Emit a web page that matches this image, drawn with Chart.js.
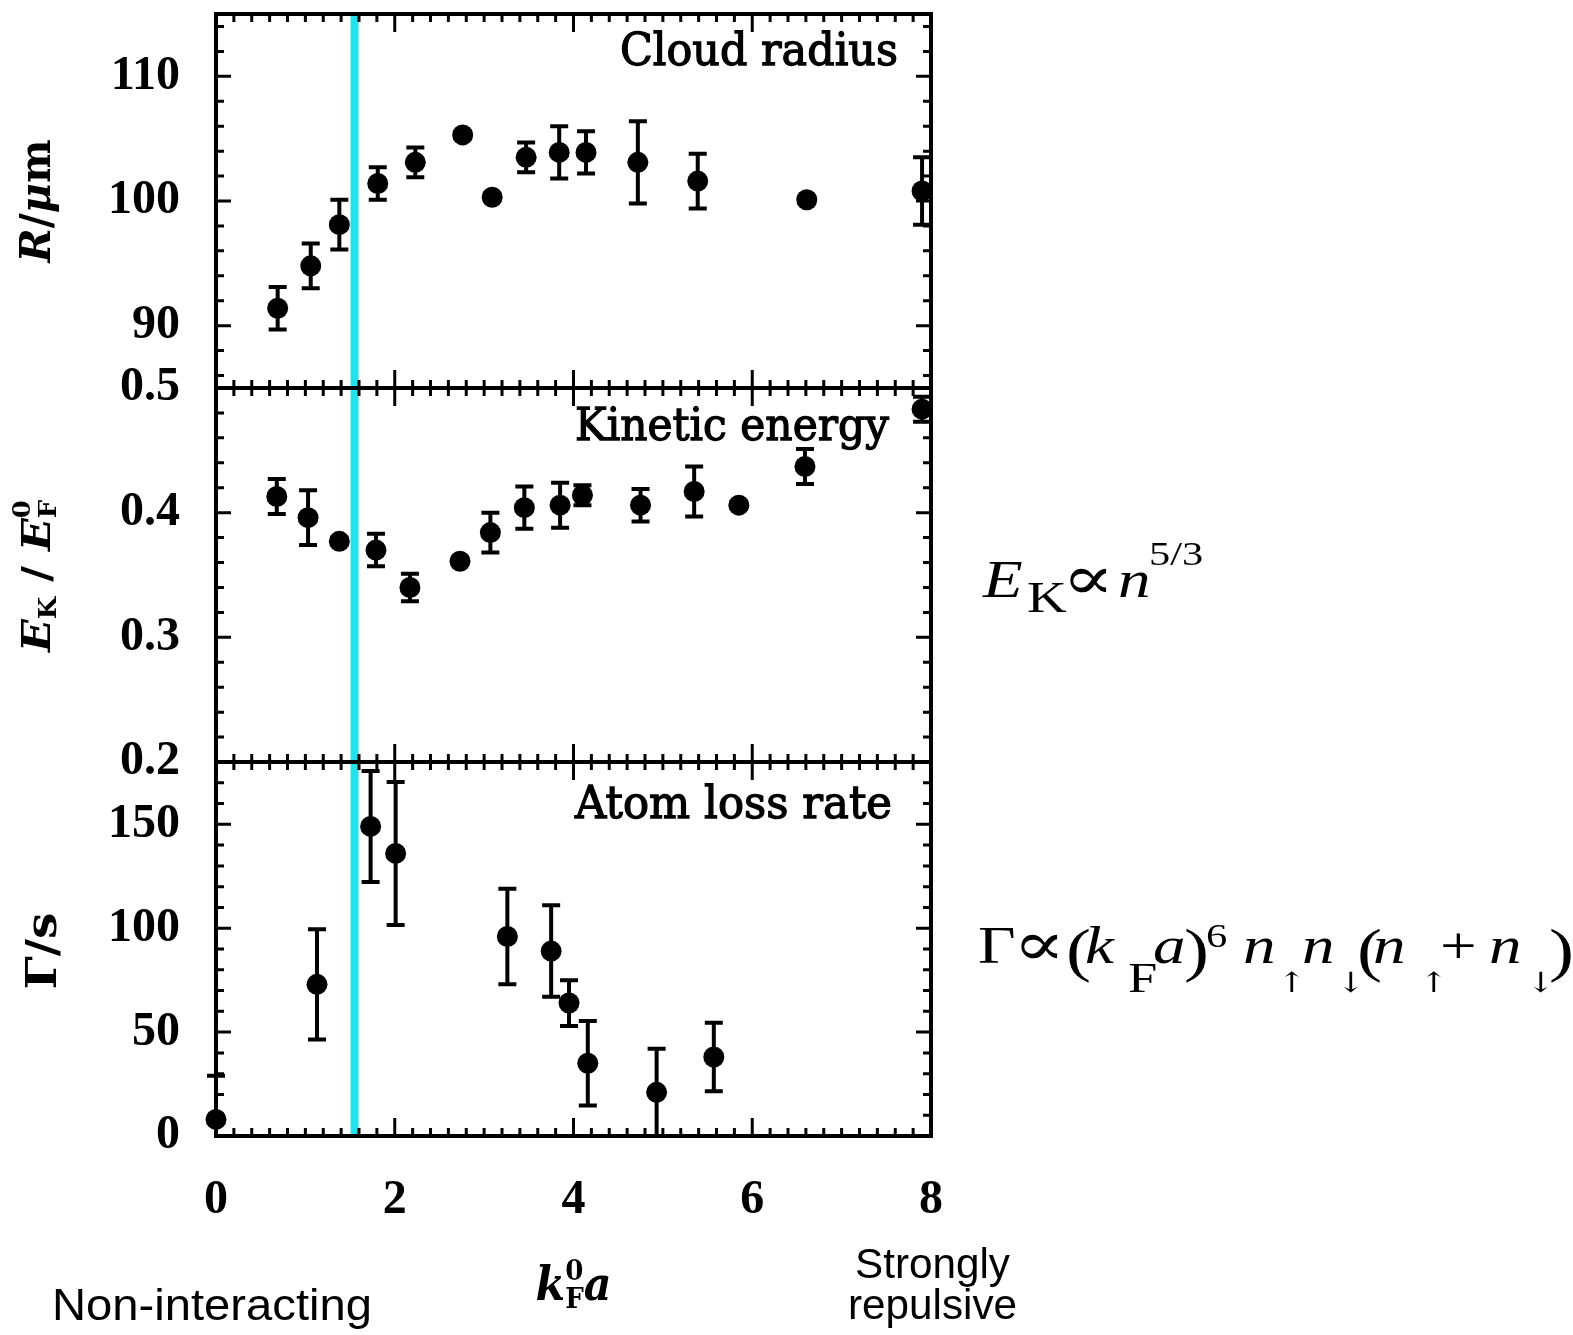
<!DOCTYPE html>
<html>
<head>
<meta charset="utf-8">
<title>Repulsive Fermi gas</title>
<script src="https://cdn.jsdelivr.net/npm/chart.js@4.4.1/dist/chart.umd.min.js"></script>
<style>
  html, body { margin: 0; padding: 0; background: #fff; }
  canvas { display: block; }
</style>
</head>
<body>
<canvas id="myChart" width="1573" height="1335"></canvas>
<script>
// values (x = k_F^0 a)
const radiusK = [0.69, 1.06, 1.38, 1.81, 2.23, 2.76, 3.09, 3.47, 3.84, 4.14, 4.72, 5.39, 6.61, 7.90];
const radiusR = [91.4, 94.8, 98.1, 101.4, 103.1, 105.3, 100.3, 103.5, 103.9, 103.9, 103.1, 101.6, 100.1, 100.8];
const radiusErr = [1.7, 1.8, 2.0, 1.3, 1.2, 0.3, 0.3, 1.2, 2.1, 1.7, 3.3, 2.2, 0.3, 2.7];

const energyK = [0.68, 1.03, 1.38, 1.79, 2.17, 2.73, 3.07, 3.45, 3.85, 4.10, 4.75, 5.35, 5.85, 6.59, 7.90];
const energyE = [0.413, 0.396, 0.377, 0.370, 0.340, 0.361, 0.384, 0.404, 0.406, 0.414, 0.406, 0.417, 0.406, 0.437, 0.483];
const energyErr = [0.014, 0.022, 0.003, 0.013, 0.011, 0.003, 0.016, 0.017, 0.018, 0.008, 0.013, 0.020, 0.003, 0.014, 0.010];

const lossK = [0.0, 1.13, 1.73, 2.01, 3.26, 3.75, 3.95, 4.16, 4.93, 5.57];
const lossG = [8, 73, 149, 136, 96, 89, 64, 35, 21, 38];
const lossErr = [21, 26.5, 26.7, 34.4, 23, 22, 11, 20.3, 21, 16.5];

const xTicks = [0, 2, 4, 6, 8];
const radiusTicks = [90, 100, 110];
const energyTicks = [0.2, 0.3, 0.4, 0.5];
const lossTicks = [0, 50, 100, 150];
const crossoverK = 1.55;

const SERIF = '"DejaVu Serif", serif';
const TIMES = '"Liberation Serif", "DejaVu Serif", serif';
const SANS = '"Liberation Sans", Arial, sans-serif';
const ARROW = '"DejaVu Serif", serif';

const panels = [
  { id: 'y1', title: 'Cloud radius', min: 85, max: 115, major: 10, minor: 2, right: 898, base: 65, width: 278 },
  { id: 'y2', title: 'Kinetic energy', min: 0.2, max: 0.5, major: 0.1, minor: 0.02, right: 889, base: 440, width: 314 },
  { id: 'y3', title: 'Atom loss rate', min: 0, max: 180, major: 50, minor: 10, right: 892, base: 818, width: 317 },
];

const toPoints = (xs, ys) => xs.map((x, i) => ({ x: x, y: ys[i] }));

function runsWidth(ctx, runs) {
  let w = 0;
  runs.forEach(r => {
    ctx.font = r[1];
    if (r[3] !== false) w += ctx.measureText(r[0]).width;
  });
  return w;
}

function drawRuns(ctx, runs, x, y) {
  let cx = x;
  runs.forEach(r => {
    ctx.font = r[1];
    ctx.fillText(r[0], cx, y + (r[2] || 0));
    if (r[3] !== false) cx += ctx.measureText(r[0]).width;
  });
}

function fitText(ctx, text, font, left, base, width, heavy) {
  ctx.font = font;
  const w = ctx.measureText(text).width;
  ctx.save();
  ctx.translate(left, base);
  ctx.scale(width / w, 1);
  ctx.fillText(text, 0, 0);
  if (heavy) {
    ctx.lineWidth = heavy;
    ctx.strokeStyle = '#000';
    ctx.strokeText(text, 0, 0);
  }
  ctx.restore();
}

function rotatedTitle(ctx, runs, baseX, centerY, length) {
  const w = runsWidth(ctx, runs);
  ctx.save();
  ctx.translate(baseX, centerY);
  ctx.rotate(-Math.PI / 2);
  ctx.scale(length / w, 1);
  drawRuns(ctx, runs, -w / 2, 0);
  ctx.restore();
}

const crossover = {
  id: 'crossover',
  beforeDatasetsDraw(chart) {
    const { ctx, chartArea: a, scales } = chart;
    const px = scales.x.getPixelForValue(crossoverK);
    ctx.save();
    ctx.fillStyle = '#22e2ec';
    ctx.fillRect(px - 4, a.top, 8, a.bottom - a.top);
    ctx.restore();
  }
};

const errorBars = {
  id: 'errorBars',
  afterDatasetsDraw(chart) {
    const { ctx, chartArea: a, scales } = chart;
    const xs = scales.x;
    chart.data.datasets.forEach(ds => {
      const ys = scales[ds.yAxisID];
      ctx.save();
      ctx.beginPath();
      ctx.rect(a.left - 12, ys.top, a.right - a.left + 24, ys.bottom - ys.top);
      ctx.clip();
      ctx.strokeStyle = '#000';
      ctx.lineWidth = 4;
      ds.data.forEach((p, i) => {
        const e = ds.errors[i];
        const px = xs.getPixelForValue(p.x);
        const top = ys.getPixelForValue(p.y + e);
        const bot = ys.getPixelForValue(p.y - e);
        ctx.beginPath();
        ctx.moveTo(px, top); ctx.lineTo(px, bot);
        ctx.moveTo(px - 9, top); ctx.lineTo(px + 9, top);
        ctx.moveTo(px - 9, bot); ctx.lineTo(px + 9, bot);
        ctx.stroke();
      });
      ctx.restore();
    });
  }
};

const frame = {
  id: 'frame',
  afterDatasetsDraw(chart) {
    const { ctx, chartArea: a, scales } = chart;
    const xs = scales.x;
    ctx.save();
    ctx.strokeStyle = '#000';
    panels.forEach(pn => {
      const ys = scales[pn.id];
      ctx.lineWidth = 3;
      ctx.beginPath();
      // x ticks, inward on top and bottom of every panel
      for (let i = 0; i <= 40; i++) {
        const px = xs.getPixelForValue(i * 0.2);
        const len = i % 10 === 0 ? 18 : 8;
        ctx.moveTo(px, ys.top); ctx.lineTo(px, ys.top + len);
        ctx.moveTo(px, ys.bottom); ctx.lineTo(px, ys.bottom - len);
      }
      // y ticks, both sides
      const start = Math.ceil(pn.min / pn.minor - 1e-6);
      const end = Math.floor(pn.max / pn.minor + 1e-6);
      for (let k = start; k <= end; k++) {
        const v = k * pn.minor;
        const py = ys.getPixelForValue(v);
        const r = v / pn.major;
        const len = Math.abs(r - Math.round(r)) < 1e-6 ? 15 : 8;
        ctx.moveTo(a.left, py); ctx.lineTo(a.left + len, py);
        ctx.moveTo(a.right, py); ctx.lineTo(a.right - len, py);
      }
      ctx.stroke();
      ctx.lineWidth = 4;
      ctx.strokeRect(a.left, ys.top, a.right - a.left, ys.bottom - ys.top);
    });
    ctx.restore();
  }
};

// glyph, font, x, baseline
const lawGlyphs = [
  ['E', `italic 52px ${TIMES}`, 983, 597],
  ['K', `44px ${TIMES}`, 1027, 612],
  ['\u221d', `62px ${TIMES}`, 1062, 599],
  ['n', `italic 52px ${TIMES}`, 1118, 597],
  ['5/3', `34px ${TIMES}`, 1149, 565],

  ['\u0393', `52px ${TIMES}`, 978, 963],
  ['\u221d', `62px ${TIMES}`, 1013, 965],
  ['(', `60px ${TIMES}`, 1066, 970],
  ['k', `italic 52px ${TIMES}`, 1085, 963],
  ['F', `42px ${TIMES}`, 1128, 992],
  ['a', `italic 52px ${TIMES}`, 1153, 963],
  [')', `60px ${TIMES}`, 1184, 970],
  ['6', `34px ${TIMES}`, 1206, 947],
  ['n', `italic 52px ${TIMES}`, 1243, 963],
  ['\u2191', `28px ${ARROW}`, 1277, 992],
  ['n', `italic 52px ${TIMES}`, 1302, 963],
  ['\u2193', `28px ${ARROW}`, 1336, 992],
  ['(', `60px ${TIMES}`, 1357, 970],
  ['n', `italic 52px ${TIMES}`, 1373, 963],
  ['\u2191', `28px ${ARROW}`, 1419, 992],
  ['+', `52px ${TIMES}`, 1440, 963],
  ['n', `italic 52px ${TIMES}`, 1489, 963],
  ['\u2193', `28px ${ARROW}`, 1526, 992],
  [')', `60px ${TIMES}`, 1549, 970],
];

const annotations = {
  id: 'annotations',
  afterDraw(chart) {
    const { ctx, chartArea: a } = chart;
    ctx.save();
    ctx.fillStyle = '#000';
    ctx.textBaseline = 'alphabetic';
    ctx.textAlign = 'left';

    // panel names
    panels.forEach(pn => {
      fitText(ctx, pn.title, `45px ${SERIF}`, pn.right - pn.width, pn.base, pn.width, 1.3);
    });

    // y axis titles
    rotatedTitle(ctx, [
      ['R', `italic bold 42px ${SERIF}`],
      ['/', `bold 42px ${SERIF}`],
      ['\u03bc', `italic bold 42px ${SERIF}`],
      ['m', `bold 42px ${SERIF}`],
    ], 50, 201, 123);
    rotatedTitle(ctx, [
      ['E', `italic bold 40px ${SERIF}`],
      ['K', `bold 24px ${SERIF}`, 6],
      [' / ', `bold 40px ${SERIF}`],
      ['E', `italic bold 40px ${SERIF}`],
      ['0', `bold 24px ${SERIF}`, -20, false],
      ['F', `bold 24px ${SERIF}`, 6],
    ], 50, 576, 152);
    rotatedTitle(ctx, [
      ['\u0393', `bold 42px ${SERIF}`],
      ['/', `bold 42px ${SERIF}`],
      ['s', `bold 42px ${SERIF}`],
    ], 56, 951, 77);

    // x axis title k_F^0 a
    const kRuns = [
      ['k', `italic bold 46px ${SERIF}`],
      ['0', `bold 28px ${SERIF}`, -20, false],
      ['F', `bold 28px ${SERIF}`, 8],
      ['a', `italic bold 46px ${SERIF}`],
    ];
    const kw = runsWidth(ctx, kRuns);
    ctx.save();
    ctx.translate((a.left + a.right) / 2, 1300);
    ctx.scale(76 / kw, 1);
    drawRuns(ctx, kRuns, -kw / 2, 0);
    ctx.restore();

    // regime labels
    fitText(ctx, 'Non-interacting', `44px ${SANS}`, 52, 1320, 320);
    fitText(ctx, 'Strongly', `43px ${SANS}`, 855, 1278, 155);
    fitText(ctx, 'repulsive', `43px ${SANS}`, 848, 1319, 169);

    // scaling laws, glyphs stretched a little as in the original artwork
    lawGlyphs.forEach(g => {
      ctx.save();
      ctx.font = g[1];
      ctx.translate(g[2], g[3]);
      ctx.scale(1.25, 1);
      ctx.fillText(g[0], 0, 0);
      ctx.restore();
    });
    ctx.restore();
  }
};

const pointStyle = {
  type: 'scatter',
  backgroundColor: '#000',
  borderColor: '#000',
  borderWidth: 0,
  pointRadius: 10.5,
  pointHoverRadius: 10.5,
  showLine: false,
  clip: false,
};

const tickFont = { family: 'Liberation Serif', weight: 'bold', size: 48 };

function yScale(ticks, min, max) {
  return {
    type: 'linear',
    position: 'left',
    stack: 'panels',
    stackWeight: 1,
    min: min,
    max: max,
    afterBuildTicks: s => { s.ticks = ticks.map(v => ({ value: v })); },
    afterFit: s => { s.width = 216; s.paddingTop = 0; s.paddingBottom = 0; },
    grid: { display: false, drawTicks: false },
    border: { display: false },
    ticks: { color: '#000', padding: 36, font: tickFont, autoSkip: false },
  };
}

new Chart(document.getElementById('myChart'), {
  type: 'scatter',
  data: {
    datasets: [
      { label: 'Cloud radius', data: toPoints(radiusK, radiusR), errors: radiusErr, yAxisID: 'y1', ...pointStyle },
      { label: 'Kinetic energy', data: toPoints(energyK, energyE), errors: energyErr, yAxisID: 'y2', ...pointStyle },
      { label: 'Atom loss rate', data: toPoints(lossK, lossG), errors: lossErr, yAxisID: 'y3', ...pointStyle },
    ]
  },
  options: {
    responsive: false,
    animation: false,
    layout: { padding: { left: 0, top: 14, right: 642, bottom: 99 } },
    plugins: { legend: { display: false }, tooltip: { enabled: false } },
    scales: {
      x: {
        type: 'linear',
        position: 'bottom',
        min: 0,
        max: 8,
        afterBuildTicks: s => { s.ticks = xTicks.map(v => ({ value: v })); },
        afterFit: s => { s.height = 100; s.paddingLeft = 0; s.paddingRight = 0; },
        grid: { display: false, drawTicks: false },
        border: { display: false },
        ticks: { color: '#000', padding: 36, font: tickFont, maxRotation: 0, autoSkip: false },
      },
      y3: yScale(lossTicks, 0, 180),
      y2: yScale(energyTicks, 0.2, 0.5),
      y1: yScale(radiusTicks, 85, 115),
    }
  },
  plugins: [crossover, errorBars, frame, annotations]
});
</script>
</body>
</html>
